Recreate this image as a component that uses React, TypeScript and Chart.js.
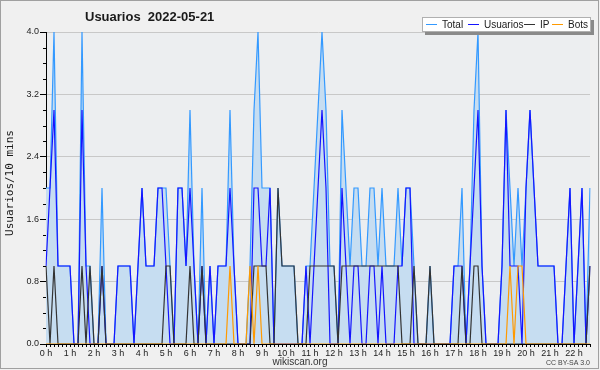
import React, { useEffect, useRef } from 'react';
import { Chart, registerables } from 'chart.js';

Chart.register(...registerables);

// 10-minute slots from 0:00 to 22:40
const totalSeries = [
  2, 2, 4, 1, 1, 1, 1, 0, 0, 4, 1, 1, 0, 0, 2, 0, 0, 0, 1, 1, 1, 1, 0, 1, 2, 1, 1, 1, 2, 2,
  2, 1, 0, 2, 2, 1, 3, 1, 0, 2, 0, 1, 0, 1, 1, 1, 3, 1, 0, 0, 0, 1, 3, 4, 2, 2, 2, 0, 2, 1,
  1, 1, 1, 0, 0, 1, 1, 2, 3, 4, 3, 1, 1, 0, 3, 2, 1, 2, 2, 1, 1, 2, 2, 1, 2, 1, 1, 1, 2, 1,
  2, 2, 1, 0, 0, 0, 1, 0, 0, 0, 0, 0, 1, 1, 2, 0, 1, 3, 4, 1, 0, 0, 0, 0, 1, 3, 2, 1, 2, 1,
  2, 3, 2, 1, 1, 1, 1, 1, 0, 0, 1, 2, 0, 1, 2, 0, 2,
];
const usuariosSeries = [
  1, 2, 3, 1, 1, 1, 1, 0, 0, 3, 1, 0, 0, 0, 1, 0, 0, 0, 1, 1, 1, 1, 0, 1, 2, 1, 1, 1, 2, 2,
  1, 0, 0, 2, 2, 1, 2, 1, 0, 1, 0, 1, 0, 1, 1, 1, 2, 1, 0, 0, 0, 0, 2, 2, 1, 1, 2, 0, 0, 0,
  0, 0, 0, 0, 0, 1, 0, 1, 2, 3, 2, 0, 0, 0, 2, 1, 0, 1, 1, 0, 0, 1, 1, 0, 1, 0, 0, 0, 1, 1,
  2, 2, 0, 0, 0, 0, 0, 0, 0, 0, 0, 0, 1, 1, 1, 0, 1, 2, 3, 1, 0, 0, 0, 0, 1, 3, 1, 1, 1, 0,
  2, 3, 2, 1, 1, 1, 1, 1, 0, 0, 1, 2, 0, 1, 2, 0, 1,
];
const ipSeries = [
  1, 0, 1, 0, 0, 0, 0, 0, 0, 1, 0, 1, 0, 0, 1, 0, 0, 0, 0, 0, 0, 0, 0, 0, 0, 0, 0, 0, 0, 0,
  1, 1, 0, 0, 0, 0, 1, 0, 0, 1, 0, 0, 0, 0, 0, 0, 0, 0, 0, 0, 0, 0, 1, 1, 1, 1, 0, 0, 2, 1,
  1, 1, 1, 0, 0, 0, 1, 1, 1, 1, 1, 1, 1, 0, 1, 1, 1, 1, 1, 1, 1, 1, 1, 1, 1, 1, 1, 1, 1, 0,
  0, 0, 1, 0, 0, 0, 1, 0, 0, 0, 0, 0, 0, 0, 1, 0, 0, 1, 1, 0, 0, 0, 0, 0, 0, 0, 0, 0, 0, 0,
  0, 0, 0, 0, 0, 0, 0, 0, 0, 0, 0, 0, 0, 0, 0, 0, 1,
];
const botsSeries = [
  0, 0, 0, 0, 0, 0, 0, 0, 0, 0, 0, 0, 0, 0, 0, 0, 0, 0, 0, 0, 0, 0, 0, 0, 0, 0, 0, 0, 0, 0,
  0, 0, 0, 0, 0, 0, 0, 0, 0, 0, 0, 0, 0, 0, 0, 0, 1, 0, 0, 0, 0, 1, 0, 1, 0, 0, 0, 0, 0, 0,
  0, 0, 0, 0, 0, 0, 0, 0, 0, 0, 0, 0, 0, 0, 0, 0, 0, 0, 0, 0, 0, 0, 0, 0, 0, 0, 0, 0, 0, 0,
  0, 0, 0, 0, 0, 0, 0, 0, 0, 0, 0, 0, 0, 0, 0, 0, 0, 0, 0, 0, 0, 0, 0, 0, 0, 0, 1, 0, 1, 1,
  0, 0, 0, 0, 0, 0, 0, 0, 0, 0, 0, 0, 0, 0, 0, 0, 0,
];
const hourLabels = [
  '0 h', '1 h', '2 h', '3 h', '4 h', '5 h', '6 h', '7 h', '8 h', '9 h', '10 h', '11 h',
  '12 h', '13 h', '14 h', '15 h', '16 h', '17 h', '18 h', '19 h', '20 h', '21 h', '22 h',
];
const yTickValues = [0, 0.8, 1.6, 2.4, 3.2, 4.0];
const slotLabels = totalSeries.map((_, i) => `${Math.floor(i / 6)}:${i % 6}0`);

const legendItems = [
  { label: 'Total', color: '#3399ff', x: 426 },
  { label: 'Usuarios', color: '#1414ff', x: 468 },
  { label: 'IP', color: '#333333', x: 524 },
  { label: 'Bots', color: '#ff9a00', x: 552 },
];

const decor = {
  id: 'decor',
  beforeDraw(chart: any) {
    const { ctx, chartArea: a } = chart;
    ctx.save();
    ctx.fillStyle = '#f0f0f0';
    ctx.fillRect(0, 0, chart.width, chart.height);
    ctx.fillStyle = '#eceef0';
    ctx.fillRect(a.left, a.top, a.right - a.left, a.bottom - a.top);
    ctx.restore();
  },
  afterDraw(chart: any) {
    const { ctx, chartArea: a } = chart;
    const y = chart.scales.y;
    ctx.save();
    // minor y ticks
    ctx.strokeStyle = '#000';
    ctx.lineWidth = 1;
    for (let v = 0.2; v < 4; v += 0.2) {
      const r = Math.round(v * 10) / 10;
      if (Math.abs(r / 0.8 - Math.round(r / 0.8)) < 1e-6) continue;
      const py = Math.round(y.getPixelForValue(r)) + 0.5;
      ctx.beginPath();
      ctx.moveTo(a.left - 3, py);
      ctx.lineTo(a.left, py);
      ctx.stroke();
    }
    // title
    ctx.fillStyle = '#1a1a1a';
    ctx.font = 'bold 13px "Liberation Sans"';
    ctx.textBaseline = 'alphabetic';
    ctx.textAlign = 'left';
    ctx.fillText('Usuarios  2022-05-21', 85, 21);
    // y title
    ctx.save();
    ctx.translate(13, 183);
    ctx.rotate(-Math.PI / 2);
    ctx.font = '11px "DejaVu Sans Mono"';
    ctx.textAlign = 'center';
    ctx.fillStyle = '#1a1a1a';
    ctx.fillText('Usuarios/10 mins', 0, 0);
    ctx.restore();
    // legend
    ctx.fillStyle = '#8a8a8a';
    ctx.fillRect(425, 20, 169, 15);
    ctx.fillStyle = '#ffffff';
    ctx.fillRect(422, 17, 169, 15);
    ctx.strokeStyle = '#b0b0b0';
    ctx.strokeRect(422.5, 17.5, 168, 14);
    ctx.font = '10px "Liberation Sans"';
    for (const it of legendItems) {
      ctx.strokeStyle = it.color;
      ctx.beginPath();
      ctx.moveTo(it.x, 24.5);
      ctx.lineTo(it.x + 11, 24.5);
      ctx.stroke();
      ctx.fillStyle = '#1a1a1a';
      ctx.fillText(it.label, it.x + 16, 28);
    }
    // footer
    ctx.font = '10px "Liberation Sans"';
    ctx.textAlign = 'center';
    ctx.fillStyle = '#333';
    ctx.fillText('wikiscan.org', 300, 365);
    ctx.font = '7px "Liberation Sans"';
    ctx.textAlign = 'right';
    ctx.fillStyle = '#444';
    ctx.fillText('CC BY-SA 3.0', 590, 365);
    // frame
    ctx.strokeStyle = '#a0a0a0';
    ctx.lineWidth = 1;
    ctx.strokeRect(0.5, 0.5, chart.width - 2, chart.height - 2);
    ctx.restore();
  },
};

export default function App() {
  const ref = useRef<HTMLCanvasElement | null>(null);
  useEffect(() => {
    if (!ref.current) return;
    const line = (label: string, data: number[], color: string, order: number, fill: any = false) => ({
      label,
      data,
      borderColor: color,
      backgroundColor: fill ? '#c6ddf1' : color,
      borderWidth: 1.2,
      pointRadius: 0,
      tension: 0,
      fill,
      order,
    });
    const chart = new Chart(ref.current, {
      type: 'line',
      data: {
        labels: slotLabels,
        datasets: [
          line('Total', totalSeries, '#3399ff', 4, 'origin'),
          line('Usuarios', usuariosSeries, '#1414ff', 3),
          line('IP', ipSeries, '#333333', 2),
          line('Bots', botsSeries, '#ff9a00', 1),
        ],
      },
      options: {
        responsive: false,
        animation: false,
        layout: { padding: { top: 32, right: 10, bottom: 0, left: 0 } },
        plugins: { legend: { display: false }, title: { display: false }, tooltip: { enabled: false } },
        scales: {
          x: {
            type: 'category',
            offset: false,
            afterFit: (s: any) => { s.height = 26; },
            grid: { display: true, drawOnChartArea: false, drawTicks: true, tickLength: 3, tickColor: '#000' },
            border: { display: true, color: '#000', width: 1 },
            ticks: {
              autoSkip: false,
              maxRotation: 0,
              minRotation: 0,
              padding: 1,
              color: '#222',
              font: { family: '"Liberation Sans"', size: 9 },
              callback: (_v: any, i: number) => (i % 6 === 0 ? hourLabels[i / 6] ?? '' : ''),
            },
          },
          y: {
            min: 0,
            max: 4,
            afterFit: (s: any) => { s.width = 46; },
            afterBuildTicks: (s: any) => { s.ticks = yTickValues.map((v) => ({ value: v })); },
            grid: { color: '#c8c8c8', drawTicks: true, tickLength: 6, tickColor: '#000' },
            border: { display: true, color: '#000', width: 1 },
            ticks: {
              padding: 1,
              color: '#222',
              font: { family: '"Liberation Sans"', size: 9 },
              callback: (v: any) => Number(v).toFixed(1),
            },
          },
        },
      },
      plugins: [decor],
    });
    return () => chart.destroy();
  }, []);
  return (
    <div style={{ position: 'absolute', left: 0, top: 0, width: 600, height: 370 }}>
      <canvas ref={ref} width={600} height={370} style={{ display: 'block' }} />
    </div>
  );
}
